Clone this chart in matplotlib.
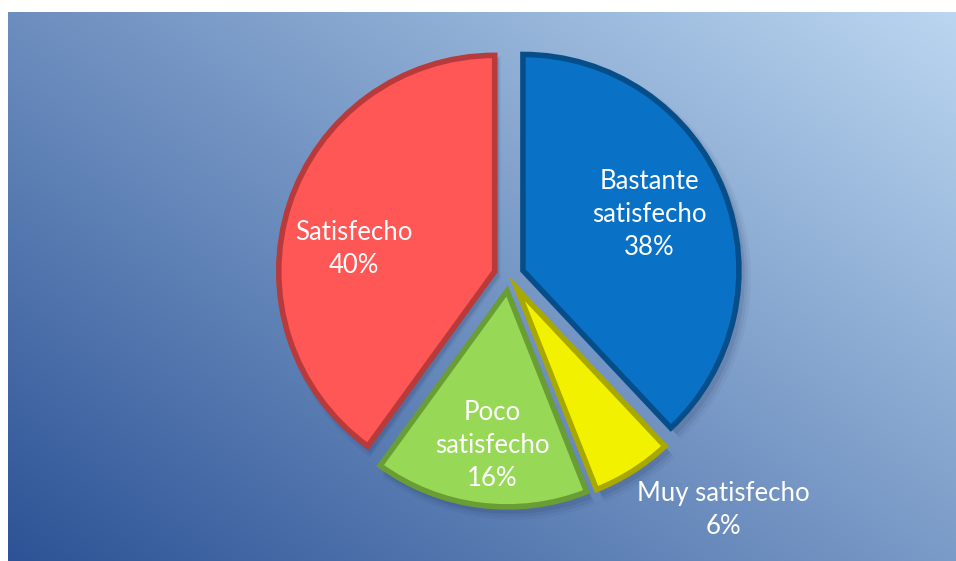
import numpy as np
import matplotlib
matplotlib.use("Agg")
import matplotlib.pyplot as plt

# ---------------------------------------------------
labels = ["Bastante\nsatisfecho", "Muy satisfecho", "Poco\nsatisfecho", "Satisfecho"]
values = [38, 6, 16, 40]
colors = ["#0A72C6", "#F2F200", "#97D957", "#FF5656"]
edge_colors = ["#064E8A", "#A8A800", "#6A9E35", "#B83A3A"]

W, H = 956, 561
plt.rcParams["font.family"] = ["Lato", "DejaVu Sans"]

fig = plt.figure(figsize=(W / 100, H / 100), dpi=100)
fig.patch.set_facecolor("white")

# ---------------------------------------------------
# gradient background (dark bottom-left -> light top-right)
bg = fig.add_axes([8 / W, 0, 1 - 8 / W, (H - 12) / H])
bg.set_axis_off()
gx = np.linspace(0, 1, 400)
gy = np.linspace(0, 1, 240)
X, Y = np.meshgrid(gx, gy)
t = (X * 0.55 + Y * 0.45)
c0 = np.array([45, 83, 150]) / 255
c1 = np.array([186, 214, 240]) / 255
img = c0[None, None, :] * (1 - t[..., None]) + c1[None, None, :] * t[..., None]
bg.imshow(img, origin="lower", aspect="auto", extent=[0, 1, 0, 1])

# ---------------------------------------------------
ax = fig.add_axes([0, 0, 1, 1])
ax.patch.set_alpha(0)

center = (509, H - 276)
radius = 216
gap = 15  # explode distance in data units (pixels)
explode = [gap] * len(values)

# soft shadow
for k, a in enumerate([0.10, 0.07, 0.05]):
    ax.pie(values, explode=explode, startangle=90, counterclock=False,
           radius=radius + 2 + k * 2, center=(center[0] + 4 + k, center[1] - 5 - k),
           colors=["#1a2a50"] * 4, wedgeprops=dict(alpha=a, linewidth=0),
           frame=True)

wedges, _ = ax.pie(values, explode=explode, startangle=90, counterclock=False,
                   radius=radius, center=center, colors=colors,
                   wedgeprops=dict(linewidth=0), frame=True)
for w, ec in zip(wedges, edge_colors):
    w.set_edgecolor(ec)
    w.set_linewidth(4)
    w.set_joinstyle("miter")

ax.set_xlim(0, W)
ax.set_ylim(0, H)
ax.set_axis_off()

# ---------------------------------------------------
# labels
dists = [0.64, 1.40, 0.72, 0.66]
angle_shift = [2, 10, 1.5, 8]
for w, lab, v, d, s in zip(wedges, labels, values, dists, angle_shift):
    mid = np.deg2rad((w.theta1 + w.theta2) / 2 + s)
    x = center[0] + (d * radius + gap) * np.cos(mid)
    y = center[1] + (d * radius + gap) * np.sin(mid)
    ax.text(x, y, f"{lab}\n{v}%", ha="center", va="center", color="white",
            fontsize=18.5, linespacing=1.4)

fig.savefig("out.png", dpi=100)
